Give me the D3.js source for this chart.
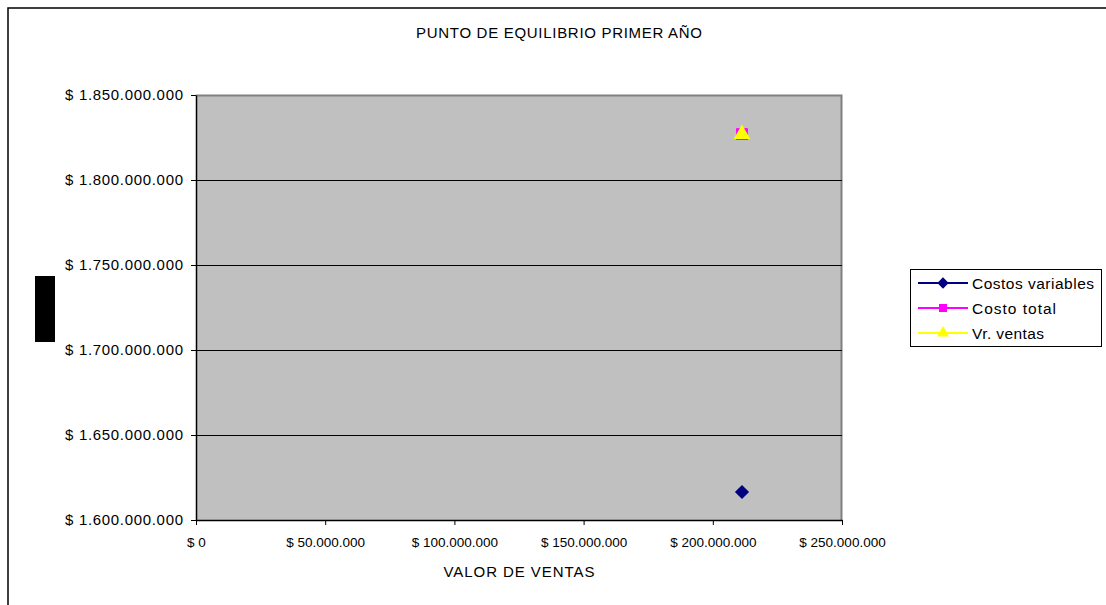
<!DOCTYPE html>
<html>
<head>
<meta charset="utf-8">
<script src="https://cdn.jsdelivr.net/npm/d3@7"></script>
<style>
  html, body { margin: 0; padding: 0; background: #fff; }
  svg text { font-family: "Liberation Sans", Arial, sans-serif; fill: #000; }
</style>
</head>
<body>
<svg id="chart" width="1106" height="605"></svg>
<script>
// Break-even data, first year
const ventas = [211300000];
const costosVariables = [1616500000];
const costoTotal = [1827000000];
const vrVentas = [1827000000];

const seriesNames = ["Costos variables", "Costo total", "Vr. ventas"];
const seriesColors = ["#000080", "#FF00FF", "#FFFF00"];

// square rotated 45 degrees, as used for spreadsheet-style diamond markers
const squareDiamond = {
  draw(context, size) {
    const r = Math.sqrt(size / 2);
    context.moveTo(0, -r);
    context.lineTo(r, 0);
    context.lineTo(0, r);
    context.lineTo(-r, 0);
    context.closePath();
  }
};
const seriesSymbols = [squareDiamond, d3.symbolSquare, d3.symbolTriangle];

const xTicks = [0, 50000000, 100000000, 150000000, 200000000, 250000000];
const yTicks = [1600000000, 1650000000, 1700000000, 1750000000, 1800000000, 1850000000];

const title = "PUNTO DE EQUILIBRIO PRIMER AÑO";
const xTitle = "VALOR DE VENTAS";

const fmtThousands = v => v.toFixed(0).replace(/\B(?=(\d{3})+(?!\d))/g, ".");
const fmtX = v => "$ " + fmtThousands(v);
const fmtY = v => "$ " + fmtThousands(v);

const svg = d3.select("#chart");

// chart frame
svg.append("rect")
  .attr("x", 8).attr("y", 8).attr("width", 1120).attr("height", 620)
  .attr("fill", "#fff").attr("stroke", "#000").attr("stroke-width", 1.5);

const plot = { left: 196, top: 95, right: 842, bottom: 520 };

const x = d3.scaleLinear().domain([0, 250000000]).range([plot.left, plot.right]);
const y = d3.scaleLinear().domain([1600000000, 1850000000]).range([plot.bottom, plot.top]);

// plot background
svg.append("rect")
  .attr("x", plot.left).attr("y", plot.top)
  .attr("width", plot.right - plot.left).attr("height", plot.bottom - plot.top)
  .attr("fill", "#C0C0C0");

// gray top/right plot border
svg.append("path")
  .attr("d", `M${plot.left},${plot.top + 0.5}H${plot.right - 0.5}V${plot.bottom}`)
  .attr("fill", "none").attr("stroke", "#808080").attr("stroke-width", 2);

// horizontal gridlines
svg.append("g")
  .selectAll("line")
  .data(yTicks.slice(1, -1))
  .join("line")
  .attr("x1", plot.left).attr("x2", plot.right)
  .attr("y1", d => Math.round(y(d)) + 0.5).attr("y2", d => Math.round(y(d)) + 0.5)
  .attr("stroke", "#000").attr("stroke-width", 1);

// y axis
const yAxis = svg.append("g")
  .attr("transform", `translate(${plot.left},0)`)
  .call(d3.axisLeft(y).tickValues(yTicks).tickFormat(fmtY).tickSize(5).tickSizeOuter(0).tickPadding(8));
yAxis.select(".domain").attr("stroke", "#000").attr("stroke-width", 1.5);
yAxis.selectAll(".tick line").attr("stroke", "#000");
yAxis.selectAll(".tick text")
  .attr("font-size", 15).attr("font-family", "Liberation Sans, Arial, sans-serif")
  .attr("textLength", 118).attr("lengthAdjust", "spacing");

// x axis
const xAxis = svg.append("g")
  .attr("transform", `translate(0,${plot.bottom})`)
  .call(d3.axisBottom(x).tickValues(xTicks).tickFormat(fmtX).tickSize(5).tickSizeOuter(0).tickPadding(12));
xAxis.select(".domain").attr("stroke", "#000").attr("stroke-width", 1.5);
xAxis.selectAll(".tick line").attr("stroke", "#000");
xAxis.selectAll(".tick text")
  .attr("font-size", 13.5).attr("font-family", "Liberation Sans, Arial, sans-serif");

// title
svg.append("text")
  .attr("x", 559).attr("y", 38)
  .attr("text-anchor", "middle").attr("font-size", 15)
  .attr("textLength", 286).attr("lengthAdjust", "spacing")
  .text(title);

// x axis title
svg.append("text")
  .attr("x", 519).attr("y", 577)
  .attr("text-anchor", "middle").attr("font-size", 15)
  .attr("textLength", 151).attr("lengthAdjust", "spacing")
  .text(xTitle);

// vertical axis title block
svg.append("rect")
  .attr("x", 35).attr("y", 276).attr("width", 20).attr("height", 66)
  .attr("fill", "#000");

// series
const seriesData = [costosVariables, costoTotal, vrVentas];
const symbolSizes = [100, 140, 120];
const line = d3.line().x(d => x(d[0])).y(d => y(d[1]));

seriesData.forEach((vals, i) => {
  const pts = ventas.map((v, k) => [v, vals[k]]);
  svg.append("path")
    .attr("d", line(pts))
    .attr("fill", "none").attr("stroke", seriesColors[i]).attr("stroke-width", 2);
  svg.append("g")
    .selectAll("path")
    .data(pts)
    .join("path")
    .attr("transform", d => `translate(${x(d[0])},${y(d[1])})`)
    .attr("d", d3.symbol().type(seriesSymbols[i]).size(symbolSizes[i]))
    .attr("fill", seriesColors[i]);
});

// legend
const legend = svg.append("g");
legend.append("rect")
  .attr("x", 910.5).attr("y", 269.5).attr("width", 191).attr("height", 77)
  .attr("fill", "#fff").attr("stroke", "#000").attr("stroke-width", 1);

const legendY = [283, 308, 333];
const legendTextLen = [122, 84, 72];
seriesNames.forEach((name, i) => {
  const g = legend.append("g");
  g.append("line")
    .attr("x1", 918).attr("x2", 968)
    .attr("y1", legendY[i]).attr("y2", legendY[i])
    .attr("stroke", seriesColors[i]).attr("stroke-width", 2);
  g.append("path")
    .attr("transform", `translate(943,${legendY[i]})`)
    .attr("d", d3.symbol().type(seriesSymbols[i]).size(64))
    .attr("fill", seriesColors[i]);
  g.append("text")
    .attr("x", 972).attr("y", legendY[i] + 5.5)
    .attr("font-size", 15.5)
    .attr("textLength", legendTextLen[i]).attr("lengthAdjust", "spacing")
    .text(name);
});
</script>
</body>
</html>
